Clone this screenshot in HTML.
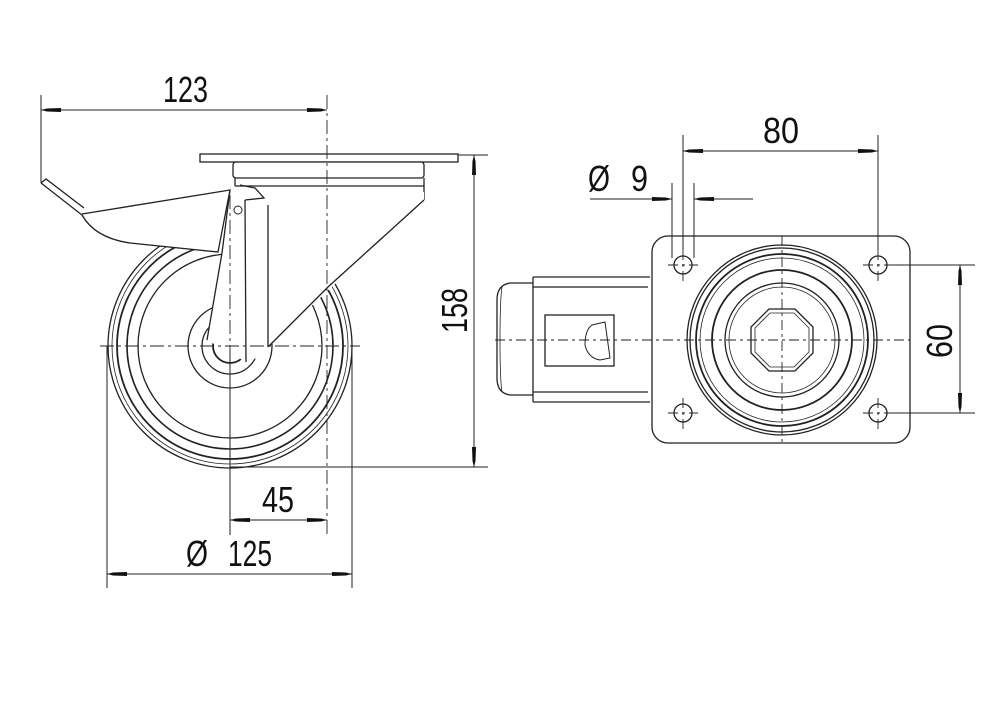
<!DOCTYPE html>
<html><head><style>
html,body{margin:0;padding:0;background:#fff;}
svg{display:block;}
text{font-family:"Liberation Sans",sans-serif;fill:#111;}
</style></head><body>
<svg width="1000" height="711" viewBox="0 0 1000 711" xmlns="http://www.w3.org/2000/svg">
<defs>
<marker id="a" viewBox="0 0 20 6" refX="20" refY="3" markerWidth="20" markerHeight="6" markerUnits="userSpaceOnUse" orient="auto-start-reverse">
<path d="M0,1 L14,1.5 L20,3 L14,4.5 L0,5 Z" fill="#111"/>
</marker>
</defs>
<g fill="none" stroke="#222" stroke-width="1.3">
<circle cx="230" cy="346" r="122"/>
<circle cx="230" cy="346" r="118" stroke-width="0.8"/>
<circle cx="230" cy="346" r="113" stroke-width="1.8"/>
<circle cx="230" cy="346" r="103" stroke-width="1.6"/>
<circle cx="230" cy="346" r="92"/>
<circle cx="230" cy="346" r="42"/>
<circle cx="230" cy="346" r="17" stroke-width="1.8"/>
<circle cx="230" cy="346" r="28"/>
<rect x="200" y="154" width="258" height="8" fill="#fff"/>
<rect x="233" y="162" width="191" height="16" rx="3" fill="#fff"/>
<line x1="235" y1="186" x2="424" y2="186"/>
<line x1="424" y1="178" x2="424" y2="200"/>
<line x1="235" y1="178" x2="235" y2="186"/>
<path d="M230,190 L424,192 L424,200 L268,347 L262,356 L246,362 L207,340 L222,253 L218,252 Z" fill="#fff" stroke="none"/>
<path d="M424,200 L328,287 L268,347"/>
<line x1="268" y1="205" x2="268" y2="347"/>
<path d="M230,190 L222,253 L207,340"/>
<path d="M245,200 L246,362"/>
<path d="M240,185 L255,188 L264,198 L245,200"/>
<circle cx="238" cy="210" r="4" stroke-width="1"/>
<path d="M41,183 L82,215 Q95,238 130,243 L218,252 L230,190 L82,214" fill="#fff"/>
<path d="M41,183 L46,179 L84,208"/>
<g stroke-width="0.9" stroke-dasharray="14,4,3,4">
<line x1="100" y1="346" x2="360" y2="346"/>
<line x1="230" y1="195" x2="230" y2="470"/>
<line x1="327" y1="95" x2="327" y2="535"/>
</g>
<g stroke-width="1">
<line x1="41" y1="95" x2="41" y2="183"/>
<line x1="41" y1="110" x2="327" y2="110" marker-start="url(#a)" marker-end="url(#a)"/>
<line x1="458" y1="155" x2="488" y2="155"/>
<line x1="230" y1="467" x2="488" y2="467"/>
<line x1="474" y1="155" x2="474" y2="467" marker-start="url(#a)" marker-end="url(#a)"/>
<line x1="230" y1="350" x2="230" y2="535"/>
<line x1="230" y1="520" x2="327" y2="520" marker-start="url(#a)" marker-end="url(#a)"/>
<line x1="107" y1="346" x2="107" y2="588"/>
<line x1="352" y1="346" x2="352" y2="588"/>
<line x1="107" y1="574" x2="352" y2="574" marker-start="url(#a)" marker-end="url(#a)"/>
</g>
<path d="M533,277 L650,277 M533,402 L650,402 M533,287 L648,287 M533,392 L648,392 M533,277 L533,402"/>
<path d="M533,283 L510,283 Q497,285 497,300 L497,378 Q497,393 510,395 L533,395"/>
<path d="M502,287 Q500,300 500,340 Q500,380 502,392" stroke-width="0.8"/>
<rect x="545" y="315" width="69" height="51"/>
<path d="M605,322 L592,325 Q585,330 585,345 Q588,358 600,360 L610,358 Z" stroke-width="1"/>
<rect x="652" y="236" width="258" height="207" rx="16" fill="#fff"/>
<circle cx="782" cy="340" r="95"/>
<circle cx="782" cy="340" r="92"/>
<circle cx="782" cy="340" r="86" stroke-width="1.8"/>
<circle cx="782" cy="340" r="82" stroke-width="0.8"/>
<circle cx="782" cy="340" r="70" stroke-width="1.8"/>
<circle cx="782" cy="340" r="57"/>
<circle cx="782" cy="340" r="53" stroke-width="0.8"/>
<polygon points="795,309 813,327 813,353 795,371 769,371 751,353 751,327 769,309"/>
<polygon points="794,313 809,328 809,352 794,367 770,367 755,352 755,328 770,313" stroke-width="0.8"/>
<circle cx="683" cy="265" r="9"/><circle cx="878" cy="265" r="9"/>
<circle cx="683" cy="413" r="9"/><circle cx="878" cy="413" r="9"/>
<g stroke-width="0.9" stroke-dasharray="10,4,3,4">
<line x1="495" y1="340" x2="910" y2="340"/>
<line x1="782" y1="236" x2="782" y2="443"/>
<line x1="668" y1="265" x2="698" y2="265"/><line x1="683" y1="250" x2="683" y2="282"/>
<line x1="863" y1="265" x2="893" y2="265"/><line x1="878" y1="250" x2="878" y2="282"/>
<line x1="668" y1="413" x2="698" y2="413"/><line x1="683" y1="398" x2="683" y2="430"/>
<line x1="863" y1="413" x2="893" y2="413"/><line x1="878" y1="398" x2="878" y2="430"/>
</g>
<g stroke-width="1">
<line x1="683" y1="135" x2="683" y2="250"/>
<line x1="878" y1="135" x2="878" y2="250"/>
<line x1="683" y1="151" x2="878" y2="151" marker-start="url(#a)" marker-end="url(#a)"/>
<line x1="672" y1="183" x2="672" y2="258"/>
<line x1="694" y1="183" x2="694" y2="258"/>
<line x1="590" y1="199" x2="672" y2="199" marker-end="url(#a)"/>
<line x1="753" y1="199" x2="694" y2="199" marker-end="url(#a)"/>
<line x1="890" y1="265" x2="975" y2="265"/>
<line x1="890" y1="413" x2="975" y2="413"/>
<line x1="960" y1="265" x2="960" y2="413" marker-start="url(#a)" marker-end="url(#a)"/>
</g>
</g>
<g font-size="36">
<text x="163" y="102" textLength="45" lengthAdjust="spacingAndGlyphs">123</text>
<text x="262" y="512" textLength="32" lengthAdjust="spacingAndGlyphs">45</text>
<text x="186" y="566" textLength="22" lengthAdjust="spacingAndGlyphs">Ø</text>
<text x="228" y="566" textLength="44" lengthAdjust="spacingAndGlyphs">125</text>
<text transform="translate(467,333) rotate(-90)" textLength="45" lengthAdjust="spacingAndGlyphs">158</text>
<text x="763" y="143" textLength="36" lengthAdjust="spacingAndGlyphs">80</text>
<text x="588" y="191" textLength="22" lengthAdjust="spacingAndGlyphs">Ø</text>
<text x="631" y="191" textLength="17" lengthAdjust="spacingAndGlyphs">9</text>
<text transform="translate(952,358) rotate(-90)" textLength="34" lengthAdjust="spacingAndGlyphs">60</text>
</g>
</svg>
</body></html>
